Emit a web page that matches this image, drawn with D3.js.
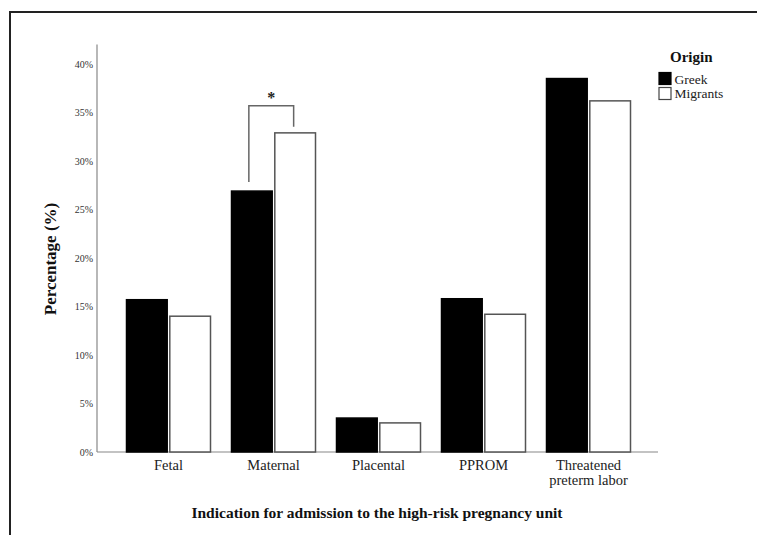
<!DOCTYPE html>
<html>
<head>
<meta charset="utf-8">
<script src="https://cdn.jsdelivr.net/npm/d3@7"></script>
<style>
  body { margin: 0; background: #fff; }
  svg { display: block; }
  text { font-family: "Liberation Serif", "Times New Roman", serif; }
</style>
</head>
<body>
<svg id="chart" width="757" height="535"></svg>
<script>
// data
const categories = ["Fetal", "Maternal", "Placental", "PPROM", "Threatened preterm labor"];
const origins = ["Greek", "Migrants"];
const greek = [15.7, 26.9, 3.5, 15.8, 38.5];
const migrants = [14.0, 32.9, 3.0, 14.2, 36.2];
const yTicks = [0, 5, 10, 15, 20, 25, 30, 35, 40];

const svg = d3.select("#chart");

// outer frame (only top and left edges show in the crop)
svg.append("path")
    .attr("d", "M10,535 V12 H757")
    .attr("fill", "none")
    .attr("stroke", "#222")
    .attr("stroke-width", 2);

const x0 = d3.scaleBand().domain(categories).range([116, 641]).paddingInner(0.2).paddingOuter(0.1);
const x1 = d3.scaleBand().domain(origins).range([0, x0.bandwidth()]).paddingInner(0.06);
const y = d3.scaleLinear().domain([0, 40]).range([452, 64]);

// axes lines
svg.append("line")
    .attr("x1", 97).attr("x2", 97)
    .attr("y1", y(42)).attr("y2", y(0))
    .attr("stroke", "#888").attr("stroke-width", 1.2);
svg.append("line")
    .attr("x1", 97).attr("x2", 658)
    .attr("y1", y(0)).attr("y2", y(0))
    .attr("stroke", "#888").attr("stroke-width", 1.2);

// y tick labels
svg.selectAll(".ytick")
    .data(yTicks)
    .join("text")
    .attr("class", "ytick")
    .attr("x", 93)
    .attr("y", d => y(d))
    .attr("dy", "0.35em")
    .attr("text-anchor", "end")
    .attr("font-size", 10)
    .attr("fill", "#333")
    .text(d => d + "%");

// bars
const rows = categories.map((c, i) => ({ cat: c, Greek: greek[i], Migrants: migrants[i] }));
const groups = svg.selectAll(".grp")
    .data(rows)
    .join("g")
    .attr("transform", d => `translate(${x0(d.cat)},0)`);

groups.selectAll("rect")
    .data(d => origins.map(o => ({ key: o, value: d[o] })))
    .join("rect")
    .attr("x", d => x1(d.key))
    .attr("width", x1.bandwidth())
    .attr("y", d => y(d.value))
    .attr("height", d => y(0) - y(d.value))
    .attr("fill", d => d.key === "Greek" ? "#000" : "#fff")
    .attr("stroke", d => d.key === "Greek" ? "#000" : "#555")
    .attr("stroke-width", 1.5);

// category labels
svg.selectAll(".xlab")
    .data(categories)
    .join("text")
    .attr("class", "xlab")
    .attr("x", d => x0(d) + x0.bandwidth() / 2)
    .attr("y", 470)
    .attr("text-anchor", "middle")
    .attr("font-size", 14.5)
    .attr("fill", "#222")
    .each(function(d) {
        const t = d3.select(this);
        if (d === "Threatened preterm labor") {
            t.append("tspan").attr("x", x0(d) + x0.bandwidth() / 2).text("Threatened");
            t.append("tspan").attr("x", x0(d) + x0.bandwidth() / 2).attr("dy", 15).text("preterm labor");
        } else {
            t.text(d);
        }
    });

// axis titles
svg.append("text")
    .attr("x", 377)
    .attr("y", 518)
    .attr("text-anchor", "middle")
    .attr("font-size", 15.5)
    .attr("font-weight", "bold")
    .attr("fill", "#111")
    .text("Indication for admission to the high-risk pregnancy unit");

svg.append("text")
    .attr("transform", "translate(56,259) rotate(-90)")
    .attr("text-anchor", "middle")
    .attr("font-size", 17)
    .attr("font-weight", "bold")
    .attr("fill", "#111")
    .text("Percentage (%)");

// significance bracket on Maternal
const mi = categories.indexOf("Maternal");
const bx1 = x0("Maternal") + x1("Greek") + x1.bandwidth() / 2 - 3;
const bx2 = x0("Maternal") + x1("Migrants") + x1.bandwidth() / 2 - 1.5;
const btop = y(migrants[mi]) - 27;
svg.append("path")
    .attr("d", `M${bx1},${y(greek[mi]) - 9} V${btop} H${bx2} V${y(migrants[mi]) - 6}`)
    .attr("fill", "none")
    .attr("stroke", "#666")
    .attr("stroke-width", 1.5);
svg.append("text")
    .attr("x", (bx1 + bx2) / 2)
    .attr("y", btop - 3)
    .attr("text-anchor", "middle")
    .attr("font-size", 16)
    .attr("font-weight", "bold")
    .attr("fill", "#222")
    .text("*");

// legend
const legend = svg.append("g").attr("transform", "translate(659,0)");
legend.append("text")
    .attr("x", 11).attr("y", 62)
    .attr("font-size", 15)
    .attr("font-weight", "bold")
    .attr("fill", "#111")
    .text("Origin");
origins.forEach((o, i) => {
    legend.append("rect")
        .attr("x", 0).attr("y", 72.5 + i * 15)
        .attr("width", 12).attr("height", 12)
        .attr("fill", o === "Greek" ? "#000" : "#fff")
        .attr("stroke", o === "Greek" ? "#000" : "#444")
        .attr("stroke-width", 1.2);
    legend.append("text")
        .attr("x", 15.5).attr("y", 83.5 + i * 14.5)
        .attr("font-size", 13.5)
        .attr("fill", "#222")
        .text(o);
});
</script>
</body>
</html>
